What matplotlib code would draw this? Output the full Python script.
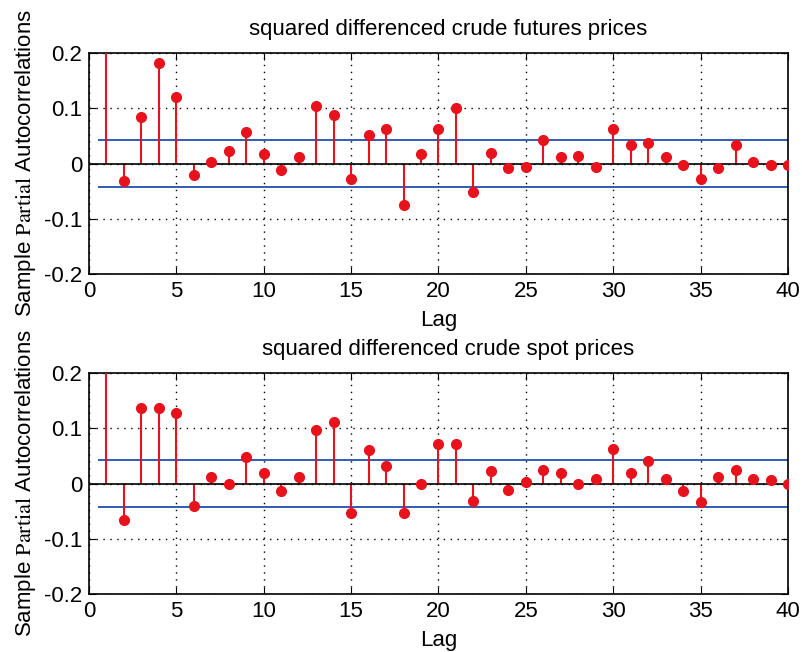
import numpy as np
import matplotlib
matplotlib.use("Agg")
import matplotlib.pyplot as plt

plt.rcParams["font.family"] = ["Liberation Sans", "DejaVu Sans"]
plt.rcParams["mathtext.fontset"] = "stix"

# lags 1..40 (lag 1 runs off the top of the axes)
lags = np.arange(1, 41)

pacf_futures = [0.30, -0.032, 0.085, 0.182, 0.120, -0.020, 0.003, 0.022, 0.057, 0.017,
                -0.011, 0.011, 0.105, 0.088, -0.028, 0.051, 0.063, -0.075, 0.017, 0.063,
                0.100, -0.051, 0.020, -0.009, -0.006, 0.043, 0.011, 0.014, -0.006, 0.063,
                0.034, 0.037, 0.011, -0.003, -0.028, -0.009, 0.034, 0.003, -0.003, -0.003]

pacf_spot = [0.30, -0.066, 0.137, 0.137, 0.128, -0.040, 0.011, 0.000, 0.049, 0.020,
             -0.014, 0.011, 0.097, 0.111, -0.054, 0.060, 0.031, -0.054, 0.000, 0.072,
             0.072, -0.031, 0.022, -0.011, 0.003, 0.025, 0.020, 0.000, 0.008, 0.063,
             0.020, 0.040, 0.008, -0.014, -0.034, 0.011, 0.025, 0.008, 0.006, 0.000]

bound = 0.0425
titles = ["squared differenced crude futures prices",
          "squared differenced crude spot prices"]
series = [pacf_futures, pacf_spot]

fig = plt.figure(figsize=(8.03, 6.52), dpi=100)
positions = [[0.1108, 0.5802, 0.8705, 0.338],
             [0.1108, 0.0894, 0.8705, 0.338]]

for pos, vals, title in zip(positions, series, titles):
    ax = fig.add_axes(pos)
    ax.grid(True, linestyle=(0, (1, 4)), color="black", linewidth=1.0)
    ax.set_axisbelow(True)

    # stems
    ax.vlines(lags, 0, vals, color="#e8121c", linewidth=1.5, zorder=3)
    ax.plot(lags, vals, "o", color="#e8121c", markersize=7, zorder=4)
    ax.axhline(0, color="black", linewidth=1.2, zorder=3.5)

    # confidence bounds
    ax.hlines([bound, -bound], 0.5, 40.5, color="#1f4fb0", linewidth=1.3, zorder=2)

    ax.set_xlim(0, 40)
    ax.set_ylim(-0.2, 0.2)
    ax.set_xticks(np.arange(0, 41, 5))
    ax.set_yticks([-0.2, -0.1, 0, 0.1, 0.2])
    ax.set_yticklabels(["-0.2", "-0.1", "0", "0.1", "0.2"])
    ax.tick_params(direction="in", top=True, right=True, labelsize=16, length=5, pad=5)
    for s in ax.spines.values():
        s.set_linewidth(1.2)
    ax.set_title(title, fontsize=16, pad=13, x=0.514)
    ax.set_xlabel("Lag", fontsize=16, labelpad=6)
    ax.set_ylabel(r"Sample $\mathrm{Partial}$ Autocorrelations", fontsize=16, labelpad=4)

fig.savefig("out.png", dpi=100)
plt.close(fig)
